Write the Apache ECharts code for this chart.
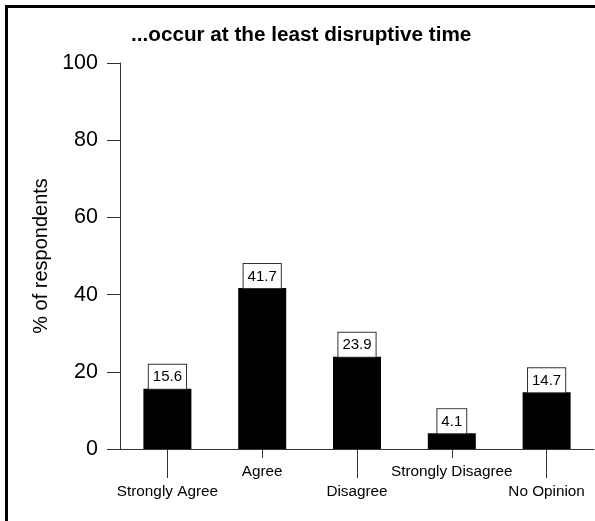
<!DOCTYPE html>
<html>
<head>
<meta charset="utf-8">
<script src="https://cdn.jsdelivr.net/npm/echarts@6/dist/echarts.min.js"></script>
<style>
  html, body { margin: 0; padding: 0; background: #fff; }
  #chart { width: 595px; height: 521px; }
</style>
</head>
<body>
<div id="chart"></div>
<script>
// data
const categories = ['Strongly Agree', 'Agree', 'Disagree', 'Strongly Disagree', 'No Opinion'];
const percents = [15.6, 41.7, 23.9, 4.1, 14.7];
const titleText = '...occur at the least disruptive time';
const yName = '% of respondents';

const FONT = '"Liberation Sans", Arial, sans-serif';
const chart = echarts.init(document.getElementById('chart'), null, { renderer: 'canvas' });

// labels alternate between a low row (long tick) and a high row (short tick)
const lowRow = (i) => i % 2 === 0;
const highRow = (i) => i % 2 === 1;

const option = {
    backgroundColor: '#fff',
    animation: false,
    title: {
        text: titleText,
        left: 131,
        top: 25,
        padding: 0,
        textStyle: { fontFamily: FONT, fontSize: 20.7, fontWeight: 'bold', color: '#000' }
    },
    grid: { left: 120, right: 1, top: 63, bottom: 72, containLabel: false },
    xAxis: [
        {
            type: 'category',
            data: categories,
            position: 'bottom',
            axisLine: { show: true, onZero: false, lineStyle: { color: '#333', width: 1 } },
            axisTick: { show: true, alignWithLabel: true, length: 29, interval: lowRow, lineStyle: { color: '#333' } },
            axisLabel: { interval: lowRow, margin: 35, fontFamily: FONT, fontSize: 15.3, color: '#000' },
            splitLine: { show: false }
        },
        {
            type: 'category',
            data: categories,
            position: 'bottom',
            axisLine: { show: false, onZero: false },
            axisTick: { show: true, alignWithLabel: true, length: 9, interval: highRow, lineStyle: { color: '#333' } },
            axisLabel: { interval: highRow, margin: 15, fontFamily: FONT, fontSize: 15.3, color: '#000' },
            splitLine: { show: false }
        }
    ],
    yAxis: {
        type: 'value',
        min: 0,
        max: 100,
        interval: 20,
        name: yName,
        nameLocation: 'middle',
        nameGap: 63,
        nameTextStyle: { fontFamily: FONT, fontSize: 20, color: '#000' },
        axisLine: { show: true, lineStyle: { color: '#333', width: 1 } },
        axisTick: { show: true, length: 13, lineStyle: { color: '#333' } },
        axisLabel: { margin: 22, fontFamily: FONT, fontSize: 21.5, color: '#000' },
        splitLine: { show: false }
    },
    series: [
        {
            type: 'bar',
            xAxisIndex: 0,
            data: percents,
            barWidth: 48,
            itemStyle: { color: '#000' },
            label: {
                show: true,
                position: 'top',
                distance: 0,
                formatter: (p) => p.value.toFixed(1),
                fontFamily: FONT,
                fontSize: 15,
                color: '#000',
                backgroundColor: '#fff',
                borderColor: '#333',
                borderWidth: 1,
                padding: [5, 4, 4, 4]
            }
        }
    ],
    // frame on the top and left edges only
    graphic: [
        { type: 'rect', shape: { x: 5, y: 5, width: 590, height: 3 }, style: { fill: '#000' }, silent: true },
        { type: 'rect', shape: { x: 5, y: 5, width: 3, height: 516 }, style: { fill: '#000' }, silent: true }
    ]
};

chart.setOption(option);
</script>
</body>
</html>
